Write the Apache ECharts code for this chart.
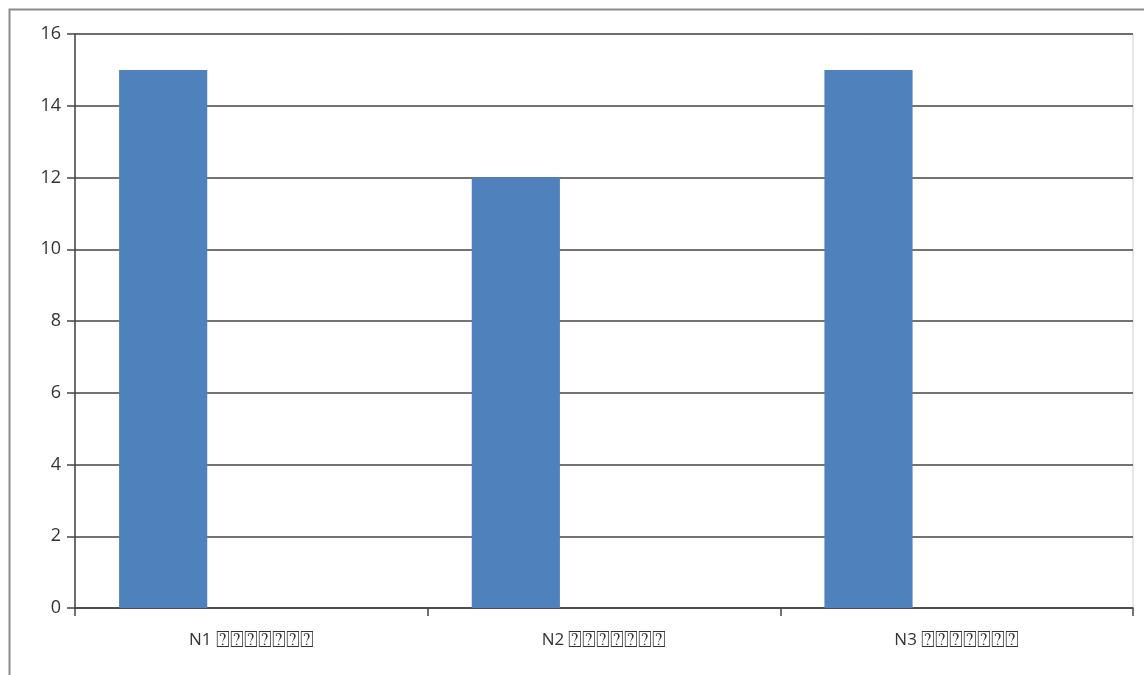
<!DOCTYPE html>
<html>
<head>
<meta charset="utf-8">
<script src="https://cdn.jsdelivr.net/npm/echarts@6/dist/echarts.min.js"></script>
<style>
  html, body { margin: 0; padding: 0; background: #fff; }
  #chart { width: 1144px; height: 675px; }
</style>
</head>
<body>
<div id="chart"></div>
<script>
// Category labels and the two series (the second one holds no values)
const categories = ['N1 ⍰⍰⍰⍰⍰⍰⍰', 'N2 ⍰⍰⍰⍰⍰⍰⍰', 'N3 ⍰⍰⍰⍰⍰⍰⍰'];
const seriesA = [15, 12, 15];
const seriesB = [null, null, null];
const yMin = 0, yMax = 16, yStep = 2;

const axisColor = '#454545';
const textColor = '#333333';
const fontFamily = '"Open Sans", "DejaVu Sans", sans-serif';

const chart = echarts.init(document.getElementById('chart'), null, { renderer: 'canvas' });
chart.setOption({
  animation: false,
  backgroundColor: '#fff',
  graphic: [{
    type: 'rect',
    left: 7, top: 7,
    shape: { width: 1300, height: 900 },
    style: { fill: 'none', stroke: '#8c8c8c', lineWidth: 2 },
    silent: true, z: -1
  }],
  grid: {
    left: 75, right: 11, top: 34, bottom: 67,
    show: true, borderColor: '#d0d0d0', borderWidth: 1, backgroundColor: 'transparent'
  },
  xAxis: {
    type: 'category',
    data: categories,
    axisLine: { lineStyle: { color: axisColor, width: 1.5 } },
    axisTick: { show: true, length: 8, lineStyle: { color: axisColor, width: 1.5 } },
    axisLabel: {
      color: textColor, fontSize: 16, fontFamily: fontFamily, margin: 21,
      // code part in the regular face, the remaining glyphs a little larger
      formatter: function (v) {
        const i = v.indexOf(' ');
        return '{n|' + v.slice(0, i) + '} {q|' + v.slice(i + 1) + '}';
      },
      rich: {
        n: { fontSize: 17, fontFamily: fontFamily, color: textColor },
        q: { fontSize: 23, fontFamily: fontFamily, color: textColor }
      }
    },
    splitLine: { show: false }
  },
  yAxis: {
    type: 'value',
    min: yMin, max: yMax, interval: yStep,
    axisLine: { show: true, lineStyle: { color: axisColor, width: 1.5 } },
    axisTick: { show: true, length: 8, lineStyle: { color: axisColor, width: 1.5 } },
    axisLabel: { color: textColor, fontSize: 18, fontFamily: fontFamily, margin: 14 },
    splitLine: { show: true, lineStyle: { color: axisColor, width: 1.5 } }
  },
  series: [
    {
      name: 'A', type: 'bar', data: seriesA,
      barGap: '100%', barCategoryGap: '25%',
      itemStyle: { color: '#4f81bd' }
    },
    {
      name: 'B', type: 'bar', data: seriesB,
      itemStyle: { color: '#c0504d' }
    }
  ]
});
</script>
</body>
</html>
